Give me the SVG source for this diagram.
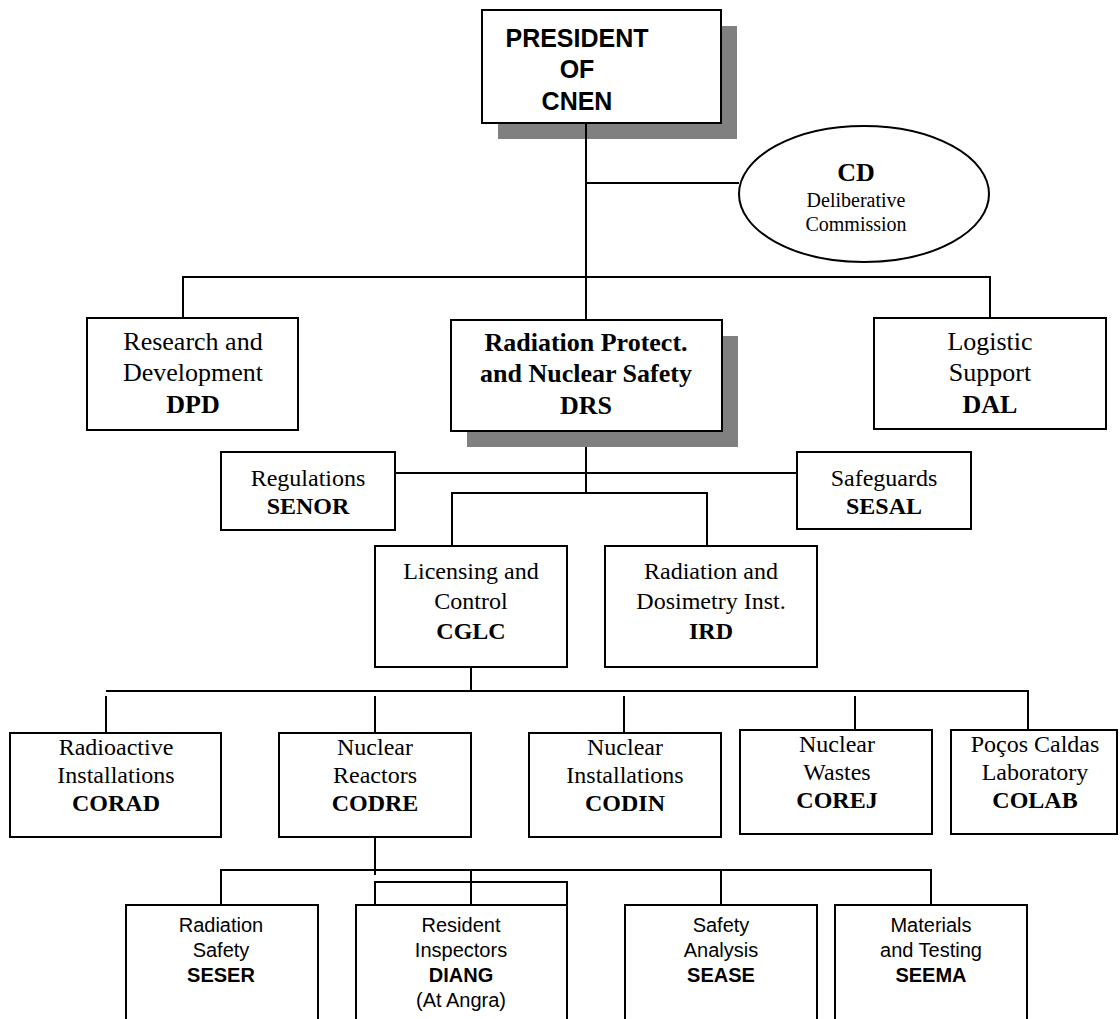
<svg xmlns="http://www.w3.org/2000/svg" width="1120" height="1019" viewBox="0 0 1120 1019">
<style>
.box{fill:#fff;stroke:#000;stroke-width:2}
.shadow{fill:#808080;stroke:none}
.ln{fill:none;stroke:#000;stroke-width:2}
.t{font-family:"Liberation Serif","Times New Roman",serif;text-anchor:middle;fill:#000}
.tb{font-family:"Liberation Serif","Times New Roman",serif;font-weight:bold;text-anchor:middle;fill:#000}
.a{font-family:"Liberation Sans",Arial,sans-serif;text-anchor:middle;fill:#000}
.ab{font-family:"Liberation Sans",Arial,sans-serif;font-weight:bold;text-anchor:middle;fill:#000}
.s26{font-size:26px}.s24{font-size:24px}.s20{font-size:20px}
</style>
<rect width="1120" height="1019" fill="#fff"/>
<g id="president">
<rect class="shadow" x="498" y="26" width="239" height="113"/>
<rect class="box" x="482" y="10" width="239" height="113"/>
<text class="ab" font-size="25" x="577" y="47">PRESIDENT</text>
<text class="ab" font-size="25" x="577" y="78">OF</text>
<text class="ab" font-size="25" x="577" y="110">CNEN</text>
</g>
<g id="cd">
<ellipse class="box" cx="864" cy="194" rx="125" ry="68"/>
<text class="tb s26" x="856" y="181">CD</text>
<text class="t s20" x="856" y="207">Deliberative</text>
<text class="t s20" x="856" y="231">Commission</text>
</g>
<g id="dpd">
<rect class="box" x="87" y="318" width="211" height="112"/>
<text class="t s26" x="193" y="350">Research and</text>
<text class="t s26" x="193" y="381">Development</text>
<text class="tb s26" x="193" y="413">DPD</text>
</g>
<g id="drs">
<rect class="shadow" x="467" y="336" width="271" height="111"/>
<rect class="box" x="451" y="320" width="271" height="111"/>
<text class="tb s26" x="586" y="351">Radiation Protect.</text>
<text class="tb s26" x="586" y="382">and Nuclear Safety</text>
<text class="tb s26" x="586" y="414">DRS</text>
</g>
<g id="dal">
<rect class="box" x="874" y="318" width="232" height="111"/>
<text class="t s26" x="990" y="350">Logistic</text>
<text class="t s26" x="990" y="381">Support</text>
<text class="tb s26" x="990" y="413">DAL</text>
</g>
<g id="senor">
<rect class="box" x="221" y="452" width="174" height="78"/>
<text class="t s24" x="308" y="486">Regulations</text>
<text class="tb s24" x="308" y="514">SENOR</text>
</g>
<g id="sesal">
<rect class="box" x="797" y="452" width="174" height="77"/>
<text class="t s24" x="884" y="486">Safeguards</text>
<text class="tb s24" x="884" y="514">SESAL</text>
</g>
<g id="cglc">
<rect class="box" x="375" y="546" width="192" height="121"/>
<text class="t s24" x="471" y="579">Licensing and</text>
<text class="t s24" x="471" y="609">Control</text>
<text class="tb s24" x="471" y="639">CGLC</text>
</g>
<g id="ird">
<rect class="box" x="605" y="546" width="212" height="121"/>
<text class="t s24" x="711" y="579">Radiation and</text>
<text class="t s24" x="711" y="609">Dosimetry Inst.</text>
<text class="tb s24" x="711" y="639">IRD</text>
</g>
<g id="corad">
<rect class="box" x="10" y="733" width="211" height="104"/>
<text class="t s24" x="116" y="755">Radioactive</text>
<text class="t s24" x="116" y="783">Installations</text>
<text class="tb s24" x="116" y="811">CORAD</text>
</g>
<g id="codre">
<rect class="box" x="279" y="733" width="192" height="104"/>
<text class="t s24" x="375" y="755">Nuclear</text>
<text class="t s24" x="375" y="783">Reactors</text>
<text class="tb s24" x="375" y="811">CODRE</text>
</g>
<g id="codin">
<rect class="box" x="529" y="733" width="192" height="104"/>
<text class="t s24" x="625" y="755">Nuclear</text>
<text class="t s24" x="625" y="783">Installations</text>
<text class="tb s24" x="625" y="811">CODIN</text>
</g>
<g id="corej">
<rect class="box" x="740" y="730" width="192" height="104"/>
<text class="t s24" x="837" y="752">Nuclear</text>
<text class="t s24" x="837" y="780">Wastes</text>
<text class="tb s24" x="837" y="808">COREJ</text>
</g>
<g id="colab">
<rect class="box" x="951" y="730" width="166" height="104"/>
<text class="t s24" x="1035" y="752">Poços Caldas</text>
<text class="t s24" x="1035" y="780">Laboratory</text>
<text class="tb s24" x="1035" y="808">COLAB</text>
</g>
<g id="seser">
<rect class="box" x="126" y="905" width="192" height="130"/>
<text class="a s20" x="221" y="932">Radiation</text>
<text class="a s20" x="221" y="957">Safety</text>
<text class="ab s20" x="221" y="982">SESER</text>
</g>
<g id="diang">
<rect class="box" x="356" y="905" width="211" height="130"/>
<text class="a s20" x="461" y="932">Resident</text>
<text class="a s20" x="461" y="957">Inspectors</text>
<text class="ab s20" x="461" y="982">DIANG</text>
<text class="a s20" x="461" y="1007">(At Angra)</text>
</g>
<g id="sease">
<rect class="box" x="625" y="905" width="192" height="130"/>
<text class="a s20" x="721" y="932">Safety</text>
<text class="a s20" x="721" y="957">Analysis</text>
<text class="ab s20" x="721" y="982">SEASE</text>
</g>
<g id="seema">
<rect class="box" x="835" y="905" width="192" height="130"/>
<text class="a s20" x="931" y="932">Materials</text>
<text class="a s20" x="931" y="957">and Testing</text>
<text class="ab s20" x="931" y="982">SEEMA</text>
</g>
<g id="connectors">
<path class="ln" d="M586 123V320"/>
<path class="ln" d="M586 183H739"/>
<path class="ln" d="M183 318V277H990V318"/>
<path class="ln" d="M586 447V493"/>
<path class="ln" d="M395 473H797"/>
<path class="ln" d="M452 546V493H707V546"/>
<path class="ln" d="M471 667V691"/>
<path class="ln" d="M106 691H1028V730"/>
<path class="ln" d="M106 696V733M375 696V733M624 696V733M855 696V730"/>
<path class="ln" d="M375 837V875"/>
<path class="ln" d="M221 905V870H931V905"/>
<path class="ln" d="M471 870V905M721 870V905"/>
<path class="ln" d="M375 905V882H567V905"/>
</g>
</svg>
